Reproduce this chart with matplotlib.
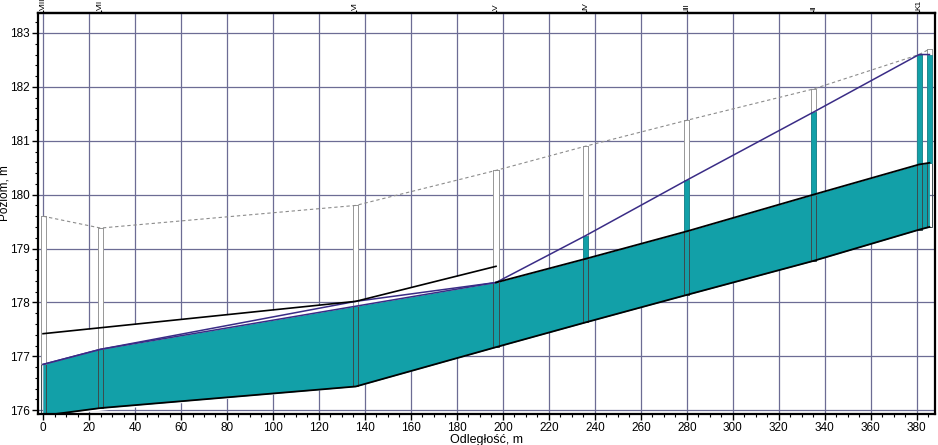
import numpy as np
import matplotlib
matplotlib.use('Agg')
import matplotlib.pyplot as plt
from matplotlib.patches import Rectangle
from matplotlib.ticker import MultipleLocator

plt.rcParams['font.family'] = ['Liberation Sans Narrow', 'Liberation Sans', 'DejaVu Sans']

# studzienki (nazwy i pikietaż)
stations = ['VIII', 'VII', 'VI', 'V', 'IV', 'III', 'II', 'K1']
station_x = [0, 25, 136, 197, 236, 280, 335, 381]

# punkty profilu (ostatni - drugi słupek przy K1)
prof_x = [0, 25, 136, 197, 236, 280, 335, 381, 385.5]
ground = [179.6, 179.38, 179.8, 180.45, 180.9, 181.38, 181.96, 182.6, 182.7]
pipe_top = [176.85, 177.13, 177.93, 178.37, 178.81, 179.32, 180.0, 180.56, 180.59]
pipe_bot = [175.9, 176.04, 176.44, 177.17, 177.63, 178.14, 178.77, 179.35, 179.4]
water = [176.85, 177.13, 178.02, 178.37, 179.24, 180.27, 181.53, 182.6, 182.6]

# linia czarna (stary kolektor?)
old_x = [0, 136, 197]
old_y = [177.42, 178.02, 178.67]

teal = '#12a0a8'
navy = '#3a2c86'
bar_w = 2.2

fig = plt.figure(figsize=(9.38, 4.45), dpi=100)
ax = fig.add_axes([0.0405, 0.0697, 0.956, 0.901])

ax.set_xlim(-2.2, 387.8)
ax.set_ylim(175.93, 183.37)

ax.xaxis.set_major_locator(MultipleLocator(20))
ax.xaxis.set_minor_locator(MultipleLocator(5))
ax.yaxis.set_major_locator(MultipleLocator(1))
ax.yaxis.set_minor_locator(MultipleLocator(0.2))
ax.set_axisbelow(True)
ax.grid(True, which='major', color='#6c6c94', lw=0.9)
ax.tick_params(which='major', direction='out', length=4, width=1, labelsize=8.5, pad=2)
ax.tick_params(which='minor', direction='out', length=2.5, width=0.8)
for s in ax.spines.values():
    s.set_linewidth(1.6)
    s.set_color('black')

# biały obszar pod starą linią
ax.fill_between(old_x, old_y, np.interp(old_x, prof_x, pipe_bot), color='white', zorder=1, lw=0)

# wypełnienie przewodu
ax.fill_between(prof_x, pipe_top, pipe_bot, color=teal, zorder=2, lw=0)

# słupki studzienek
for i, x in enumerate(prof_x):
    ax.add_patch(Rectangle((x - bar_w / 2, pipe_bot[i]), bar_w, ground[i] - pipe_bot[i],
                           facecolor='none', edgecolor='#3c4a4c', lw=0.7, zorder=2.5))
    ax.add_patch(Rectangle((x - bar_w / 2, pipe_top[i]), bar_w, ground[i] - pipe_top[i],
                           facecolor='white', edgecolor='#9a9a9a', lw=0.7, zorder=3))
    if water[i] - pipe_top[i] > 0.1:
        ax.add_patch(Rectangle((x - bar_w / 2, pipe_top[i]), bar_w, water[i] - pipe_top[i],
                               facecolor=teal, edgecolor='#0d8088', lw=0.5, zorder=3.5))

# linie
ax.plot(prof_x, ground, color='#8c8c8c', lw=0.8, ls=(0, (3, 2.5)), zorder=4)
ax.plot(prof_x, water, color=navy, lw=1.1, zorder=5)
ax.plot(prof_x[:4], pipe_top[:4], color=navy, lw=1.1, zorder=5)
ax.plot(prof_x[3:], pipe_top[3:], color='black', lw=1.3, zorder=5)
ax.plot(prof_x, pipe_bot, color='black', lw=1.3, zorder=5)
ax.plot(old_x, old_y, color='black', lw=1.2, zorder=5)

ax.set_xlabel('Odległość, m', fontsize=9, labelpad=0)
ax.set_ylabel('Poziom, m', fontsize=8.5)
ax.yaxis.set_label_coords(-0.031, 0.55)

# nazwy studzienek u góry
sec = ax.secondary_xaxis('top')
sec.set_xticks(station_x, labels=stations, rotation=90, fontsize=6)
sec.tick_params(direction='out', length=2, width=0.8, pad=0)
sec.spines['top'].set_linewidth(1.6)

fig.savefig('out.png', dpi=100)
